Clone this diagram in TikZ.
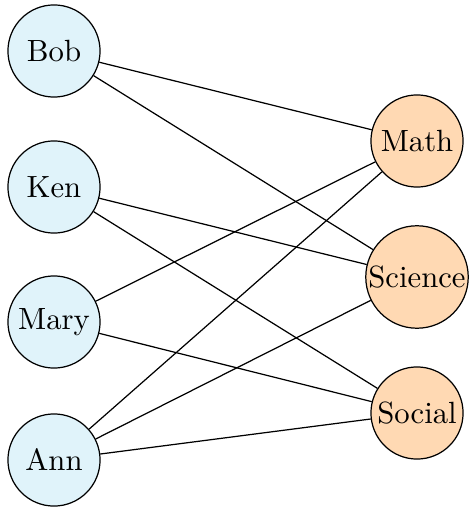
\documentclass[tikz,border=0pt]{standalone}
\definecolor{stublue}{RGB}{224,243,250}
\definecolor{subjorange}{RGB}{255,217,179}
\begin{document}
\begin{tikzpicture}[x=0.3257pt,y=-0.3257pt,
  person/.style={circle,draw,fill=stublue,minimum size=30pt,inner sep=0.4pt},
  subject/.style={circle,draw,fill=subjorange,minimum size=30pt,inner sep=0.4pt}]
\useasboundingbox (0,0) rectangle (469,507);
\node[person] (bob) at (54,51) {Bob};
\node[person] (ken) at (54,187) {Ken};
\node[person] (mary) at (54,322) {Mary};
\node[person] (ann) at (54,460) {Ann};
\node[subject] (math) at (417,141) {Math};
\node[subject] (sci) at (417,277) {Science};
\node[subject] (soc) at (417,413) {Social};
\draw (bob) -- (math);
\draw (bob) -- (sci);
\draw (ken) -- (sci);
\draw (ken) -- (soc);
\draw (mary) -- (math);
\draw (mary) -- (soc);
\draw (ann) -- (math);
\draw (ann) -- (sci);
\draw (ann) -- (soc);
\end{tikzpicture}
\end{document}
